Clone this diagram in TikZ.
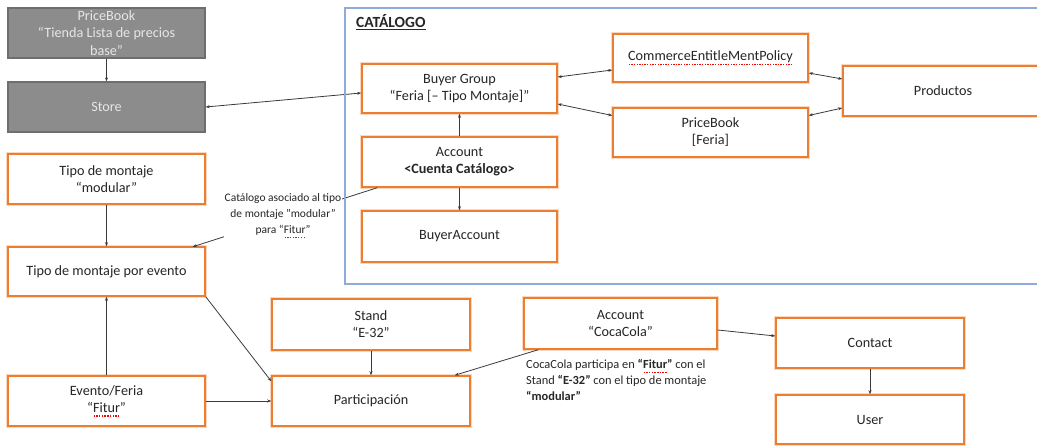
\documentclass[tikz,border=0pt]{standalone}
\usepackage{fontspec}
\setmainfont{Carlito}
\usetikzlibrary{arrows.meta}

\definecolor{boxorange}{HTML}{ED7D31}
\definecolor{catblue}{HTML}{8FAADC}
\definecolor{greyfill}{HTML}{8C8C8C}
\definecolor{greyedge}{HTML}{6E6E6E}
\definecolor{greytext}{HTML}{E6E6E6}
\definecolor{ink}{HTML}{262626}
\definecolor{linkgrey}{HTML}{3A3A3A}

% red dotted spell-check underline
\newsavebox\markbox
\newcommand\spellmark[1]{\sbox\markbox{#1}\leavevmode
  \rlap{\raisebox{-4.6pt}{\textcolor{red}{\hbox to \wd\markbox{\xleaders\hbox to 2.6pt{\hss\rule{1.4pt}{1.4pt}\hss}\hfill}}}}\usebox\markbox}
% plain underline for the frame title
\newcommand\titleline[1]{\sbox\markbox{#1}\leavevmode
  \rlap{\raisebox{-2.4pt}{\rule{\wd\markbox}{0.9pt}}}\usebox\markbox}

\tikzset{
  box/.style={draw=boxorange, line width=1.5pt,
    preaction={draw=boxorange!30, line width=3.4pt},
    fill=white, text=ink, align=center, inner sep=0pt,
    minimum width=197pt, minimum height=50pt,
    font=\fontsize{14.2}{17}\selectfont},
  greybox/.style={draw=greyedge, line width=1.2pt, fill=greyfill,
    text=greytext, align=center, inner sep=0pt,
    minimum width=197pt, minimum height=50pt,
    font=\fontsize{14.2}{17.5}\selectfont},
  link/.style={draw=linkgrey, line width=0.8pt, -{Stealth[length=4pt,width=3pt]}},
  both/.style={draw=linkgrey, line width=0.8pt,
    {Stealth[length=4pt,width=3pt]}-{Stealth[length=4pt,width=3pt]}},
  note/.style={text=ink, inner sep=1pt}
}

\begin{document}
\begin{tikzpicture}[x=1pt, y=-1pt]
\useasboundingbox (0,0) rectangle (1037,446);

% store side
\node[greybox] (pbbase) at (106.5,33) {PriceBook\\“Tienda Lista de precios\\base”};
\node[greybox] (store) at (106.5,107) {Store};

% catalogue contents
\node[box, minimum width=195pt, minimum height=49pt] (bg) at (459.5,88.5) {Buyer Group\\“Feria [– Tipo Montaje]”};
\node[box, minimum width=195pt, minimum height=48pt] (cep) at (710.5,58) {\spellmark{CommerceEntitleMentPolicy}};
\node[box, minimum width=195pt, minimum height=49pt] (pbf) at (710.5,132.5) {PriceBook\\{[Feria]}};
\node[box, minimum width=200pt] (prod) at (943,91) {Productos};
\node[box, minimum width=195pt] (acc) at (459.5,162) {Account\\\textbf{<Cuenta Catálogo>}};
\node[box, minimum width=195pt, minimum height=51pt] (ba) at (459.5,236.5) {BuyerAccount};

% event side
\node[box] (tmod) at (106.5,179) {Tipo de montaje\\“modular”};
\node[box, minimum height=49pt] (tev) at (106.5,271.5) {Tipo de montaje por evento};
\node[box] (evento) at (106.5,401) {Evento/Feria\\“\spellmark{Fitur}”};
\node[box, minimum width=198pt, minimum height=51pt] (stand) at (371,324.5) {Stand\\“E-32”};
\node[box, minimum width=198pt] (part) at (371,401) {Participación};
\node[box, minimum width=193pt, minimum height=51pt] (coca) at (620.5,323.5) {Account\\“CocaCola”};
\node[box, minimum width=188pt] (contact) at (870,343) {Contact};
\node[box, minimum width=188pt, minimum height=49pt] (user) at (870,419.5) {User};

% connectors
\draw[link] (pbbase) -- (store);
\draw[both] (store.east) -- ([yshift=-4.5pt]bg.west);
\draw[both] ([yshift=11.5pt]bg.east) -- ([yshift=-12pt]cep.west);
\draw[both] ([yshift=-15.5pt]bg.east) -- ([yshift=17pt]pbf.west);
\draw[both] ([yshift=-15pt]cep.east) -- ([yshift=12pt]prod.west);
\draw[both] ([yshift=17pt]pbf.east) -- ([yshift=-17pt]prod.west);
\draw[link] (acc) -- (bg);
\draw[link] (acc) -- (ba);
\draw[link] (tmod) -- (tev);
\draw[link] (evento) -- (tev);
\draw[link] (evento) -- (part);
\draw[link] (tev.south east) -- ([yshift=-6pt]part.north west);
\draw[link] (stand) -- (part);
\draw[link] ([xshift=15pt]coca.south west) -- ([xshift=-16pt]part.north east);
\draw[link] ([yshift=-6.5pt]coca.east) -- ([yshift=7pt]contact.west);
\draw[link] (contact) -- (user);

% annotation linking the catalogue account to the event mounting type
\draw[link] ([xshift=16pt]acc.south west) -- ([xshift=-13pt,yshift=-0.5pt]tev.north east);
\node[note, fill=white, align=center, font=\fontsize{11.5}{16}\selectfont] (note1) at (283,216)
  {Catálogo asociado al tipo\\de montaje "modular"\\para “\spellmark{Fitur}”};

\node[note, anchor=north west, align=left, inner sep=0pt, font=\fontsize{12.4}{16}\selectfont] (note2) at (526,359)
  {CocaCola participa en \textbf{“\spellmark{Fitur}”} con el\\Stand \textbf{“E-32”} con el tipo de montaje\\\textbf{“modular”}};

% catalogue frame
\draw[catblue, line width=1.8pt] (1050,8) -- (345,8) -- (345,284) -- (1050,284);
\node[anchor=west, text=ink, inner sep=0pt, font=\bfseries\fontsize{15.5}{18}\selectfont] (cattitle) at (356,22) {\titleline{CATÁLOGO}};
\end{tikzpicture}
\end{document}
